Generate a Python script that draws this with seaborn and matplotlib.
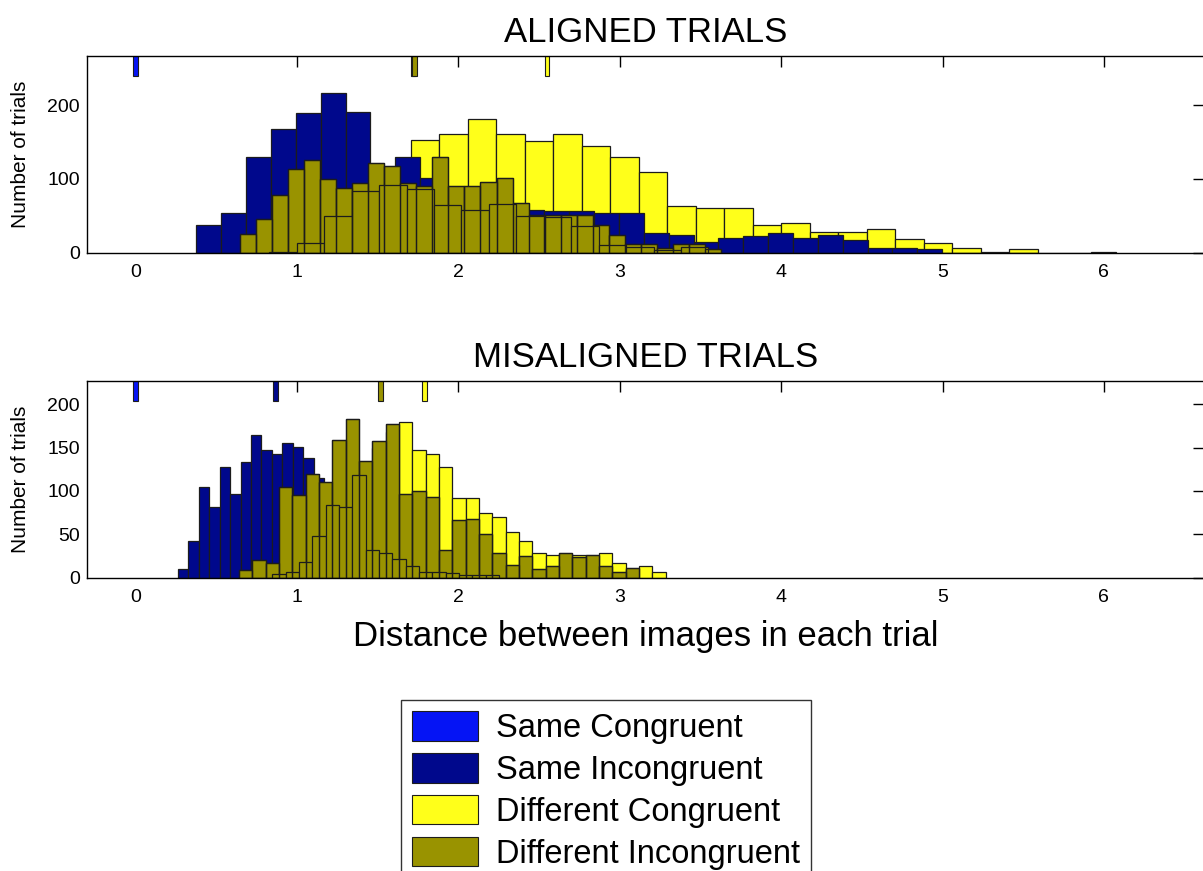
import numpy as np
import pandas as pd
import matplotlib
matplotlib.use("Agg")
import matplotlib.pyplot as plt
from matplotlib.patches import Patch
import seaborn as sns

# ---- condition names and colours ----
conditions = ["Same Congruent", "Same Incongruent", "Different Congruent", "Different Incongruent"]
colors = ["#0514F5", "#00088C", "#FFFF1A", "#999300"]
EDGE = "#1c1c1c"

# ---- ALIGNED trials: binned counts (first bin edge, bin width, counts) ----
aligned_same_incong_start, aligned_same_incong_width = 0.378, 0.154
aligned_same_incong = [38, 54, 130, 168, 189, 216, 191, 112, 130, 101, 85, 76, 62, 58,
                       56, 56, 54, 54, 27, 24, 15, 20, 22, 27, 20, 24, 17, 7, 7, 5,
                       0, 0, 0, 0, 0, 0, 1.5]
aligned_diff_cong_start, aligned_diff_cong_width = 0.47, 0.1766
aligned_diff_cong = [2, 5, 15, 30, 55, 85, 110, 153, 161, 181, 161, 151, 161, 145, 130,
                     109, 63, 60, 61, 37, 40, 28, 28, 32, 19, 13, 7, 1, 5.5]
aligned_diff_incong_a_start, aligned_diff_incong_a_width = 0.645, 0.0995
aligned_diff_incong_a = [25, 46, 78, 113, 126, 100, 88, 95, 121, 117, 94, 90, 130, 90, 90,
                         96, 101, 68, 51, 51, 51, 51, 38, 24, 12, 12, 6, 12, 12, 5]
aligned_diff_incong_b_start, aligned_diff_incong_b_width = 0.83, 0.17
aligned_diff_incong_b = [1.5, 13, 50, 83, 92, 86, 65, 58, 66, 50, 48, 36, 10, 8, 4, 8]
aligned_means = [0.0, 1.72, 2.55, 1.73]

# ---- MISALIGNED trials ----
misaligned_same_incong_start, misaligned_same_incong_width = 0.264, 0.0646
misaligned_same_incong = [10, 42, 105, 81, 127, 96, 133, 165, 147, 143, 155, 151, 138, 115,
                          100, 85, 70, 55, 42, 30, 20, 12, 6, 3]
misaligned_diff_cong_start, misaligned_diff_cong_width = 0.890, 0.0826
misaligned_diff_cong = [3, 8, 20, 40, 70, 110, 128, 150, 168, 179, 147, 143, 128, 92, 92,
                        75, 70, 53, 42, 29, 26, 27, 26, 25, 28, 17, 9, 14, 7]
misaligned_diff_incong_a_start, misaligned_diff_incong_a_width = 0.642, 0.0826
misaligned_diff_incong_a = [9, 20, 17, 104, 95, 120, 110, 159, 183, 134, 157, 177, 96, 100,
                            93, 32, 67, 68, 50, 28, 15, 25, 10, 13, 28, 24, 26, 13, 6, 11]
misaligned_diff_incong_b_start, misaligned_diff_incong_b_width = 0.848, 0.0826
misaligned_diff_incong_b = [4, 7, 18, 48, 84, 82, 118, 32, 28, 21, 14, 7, 7, 5, 3, 3, 3]
misaligned_means = [0.0, 0.87, 1.79, 1.52]

x_ticks = [0, 1, 2, 3, 4, 5, 6]
aligned_yticks = [0, 100, 200]
misaligned_yticks = [0, 50, 100, 150, 200]

sns.set_theme(style="white")
plt.rcParams["font.family"] = ["Liberation Sans", "DejaVu Sans"]
plt.rcParams["text.color"] = "black"
plt.rcParams["axes.labelcolor"] = "black"
plt.rcParams["xtick.color"] = "black"
plt.rcParams["ytick.color"] = "black"


def hist_frame(start, width, counts):
    counts = np.asarray(counts, dtype=float)
    edges = start + width * np.arange(len(counts) + 1)
    df = pd.DataFrame({"distance": 0.5 * (edges[:-1] + edges[1:]), "trials": counts})
    return df, list(edges)


def draw_hist(ax, start, width, counts, color):
    df, edges = hist_frame(start, width, counts)
    sns.histplot(data=df, x="distance", weights="trials", bins=edges, ax=ax,
                 color=color, alpha=1, edgecolor=EDGE, linewidth=0.9)


def draw_outline(ax, start, width, counts):
    # bar outlines only, so the edges of an underlying histogram stay visible
    df, edges = hist_frame(start, width, counts)
    sns.histplot(data=df, x="distance", weights="trials", bins=edges, ax=ax,
                 fill=False, color=EDGE, linewidth=0.9)


def draw_means(ax, means, base, span):
    ax.bar(means, [span] * len(means), bottom=base, width=0.03, color=colors,
           edgecolor=EDGE, linewidth=0.8)


def style_axes(ax, ylim, yticks, title):
    ax.set_xlim(-0.3, 6.62)
    ax.set_ylim(*ylim)
    ax.set_xticks(x_ticks)
    ax.set_yticks(yticks)
    ax.tick_params(direction="in", length=8, width=1, top=True, right=True,
                   labelsize=14, colors="black")
    ax.tick_params(axis="x", pad=8)
    ax.tick_params(axis="y", pad=5)
    for s in ax.spines.values():
        s.set_visible(True)
        s.set_color("black")
        s.set_linewidth(1.0)
    ax.set_title(title, fontsize=25, pad=10, color="black")
    ax.set_ylabel("Number of trials", fontsize=15)
    ax.yaxis.set_label_coords(-0.051, 0.5)
    ax.set_xlabel("")


fig = plt.figure(figsize=(12.03, 8.71), dpi=100)
W, H = 1203.0, 871.0
ax1 = fig.add_axes([87 / W, (H - 252.7) / H, 1117 / W, 197 / H])
ax2 = fig.add_axes([87 / W, (H - 577.7) / H, 1117 / W, 197 / H])

# aligned panel
draw_hist(ax1, aligned_diff_cong_start, aligned_diff_cong_width, aligned_diff_cong, colors[2])
draw_hist(ax1, aligned_same_incong_start, aligned_same_incong_width, aligned_same_incong, colors[1])
draw_hist(ax1, aligned_diff_incong_a_start, aligned_diff_incong_a_width, aligned_diff_incong_a, colors[3])
draw_hist(ax1, aligned_diff_incong_b_start, aligned_diff_incong_b_width, aligned_diff_incong_b, colors[3])
draw_outline(ax1, aligned_diff_incong_a_start, aligned_diff_incong_a_width, aligned_diff_incong_a)
draw_means(ax1, aligned_means, 240, 60)
style_axes(ax1, (0, 267), aligned_yticks, "ALIGNED TRIALS")

# misaligned panel
draw_hist(ax2, misaligned_diff_cong_start, misaligned_diff_cong_width, misaligned_diff_cong, colors[2])
draw_hist(ax2, misaligned_same_incong_start, misaligned_same_incong_width, misaligned_same_incong, colors[1])
draw_hist(ax2, misaligned_diff_incong_a_start, misaligned_diff_incong_a_width, misaligned_diff_incong_a, colors[3])
draw_hist(ax2, misaligned_diff_incong_b_start, misaligned_diff_incong_b_width, misaligned_diff_incong_b, colors[3])
draw_outline(ax2, misaligned_diff_incong_a_start, misaligned_diff_incong_a_width, misaligned_diff_incong_a)
draw_means(ax2, misaligned_means, 204, 50)
style_axes(ax2, (0, 227), misaligned_yticks, "MISALIGNED TRIALS")
ax2.set_xlabel("Distance between images in each trial", fontsize=25, labelpad=10)

handles = [Patch(facecolor=c, edgecolor=EDGE, linewidth=0.8) for c in colors]
leg = fig.legend(handles, conditions, loc="upper left",
                 bbox_to_anchor=(401 / W, (H - 700) / H), bbox_transform=fig.transFigure,
                 frameon=True, fancybox=False, fontsize=23.5, handlelength=2.0,
                 handleheight=1.0, labelspacing=0.28, borderpad=0.35, handletextpad=0.55,
                 borderaxespad=0)
leg.get_frame().set_edgecolor("black")
leg.get_frame().set_linewidth(1.0)
for t in leg.get_texts():
    t.set_color("black")

fig.savefig("out.png", dpi=100, facecolor="white")
